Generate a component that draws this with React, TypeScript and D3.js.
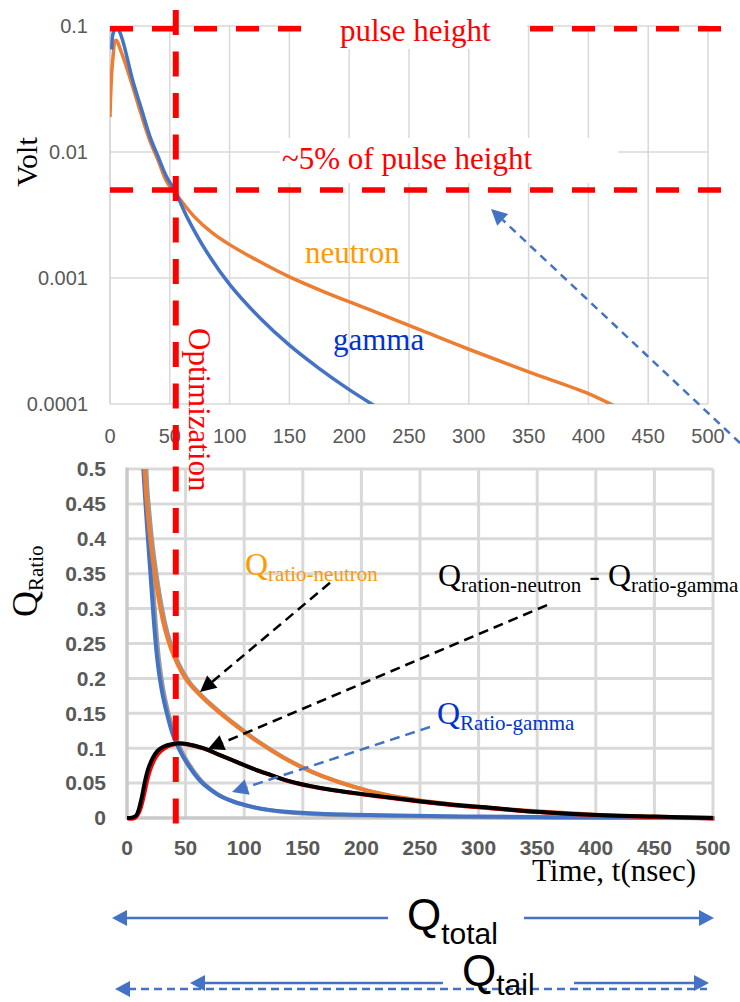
import React from 'react';
import * as d3 from 'd3';

// ---------- DATA ----------
const topXTicks = [0, 50, 100, 150, 200, 250, 300, 350, 400, 450, 500];
const topYTicks = [0.1, 0.01, 0.001, 0.0001];
const topYLabels = ['0.1', '0.01', '0.001', '0.0001'];

const gammaTime = [1.5, 3, 6, 10, 19, 26, 33.5, 40, 47.5, 54, 64, 80, 100, 125, 150, 175, 200, 225];
const gammaVolt = [0.065, 0.09, 0.097, 0.08, 0.037, 0.0224, 0.0132, 0.0093, 0.0063, 0.005, 0.0031, 0.00166, 0.00089, 0.000486, 0.000293, 0.000191, 0.00013, 0.000092];

const neutronTime = [0, 2, 5, 10, 19, 26, 33.5, 40, 47.5, 54, 70, 85, 100, 125, 150, 180, 217, 260, 300, 350, 400, 430];
const neutronVolt = [0.019, 0.05, 0.077, 0.06, 0.033, 0.02, 0.0122, 0.0087, 0.0058, 0.0048, 0.0031, 0.0023, 0.00184, 0.00135, 0.00102, 0.00077, 0.00056, 0.000385, 0.000272, 0.00018, 0.000121, 0.000088];

const pulseHeight = 0.095;
const fivePercentLevel = 0.005;
const optimizationTime = 55;

const botXTicks = [0, 50, 100, 150, 200, 250, 300, 350, 400, 450, 500];
const botYTicks = [0, 0.05, 0.1, 0.15, 0.2, 0.25, 0.3, 0.35, 0.4, 0.45, 0.5];
const botYLabels = ['0', '0.05', '0.1', '0.15', '0.2', '0.25', '0.3', '0.35', '0.4', '0.45', '0.5'];

const qNeutronTime = [14, 15, 16, 17.5, 19.5, 22, 25, 28, 31, 35, 40, 46, 53, 60, 68, 79, 94, 107, 122, 136, 150, 165, 193, 216, 250, 300, 350, 400, 450, 500];
const qNeutronVal = [0.54, 0.5, 0.47, 0.44, 0.405, 0.37, 0.335, 0.305, 0.28, 0.255, 0.232, 0.211, 0.193, 0.18, 0.167, 0.151, 0.131, 0.1145, 0.098, 0.084, 0.072, 0.061, 0.045, 0.035, 0.025, 0.016, 0.0095, 0.0048, 0.002, 0];

const qGammaTime = [13, 14, 17, 20, 23, 26, 30, 34, 39, 45, 51, 62, 70, 79, 90, 107, 120, 136, 165, 216, 300, 400, 500];
const qGammaVal = [0.55, 0.5, 0.42, 0.35, 0.28, 0.225, 0.18, 0.15, 0.12, 0.097, 0.079, 0.054, 0.042, 0.032, 0.024, 0.016, 0.012, 0.0088, 0.006, 0.004, 0.002, 0.001, 0.0005];

const qDiffTime = [0, 4, 8, 12, 15, 18, 22, 26, 31, 39, 45, 51, 65, 79.5, 94, 107, 122, 136, 165, 193, 216, 250, 278, 300, 350, 406, 450, 500];
const qDiffVal = [0, 0.0005, 0.004, 0.025, 0.05, 0.07, 0.086, 0.096, 0.102, 0.106, 0.107, 0.106, 0.1, 0.09, 0.08, 0.071, 0.062, 0.054, 0.043, 0.036, 0.031, 0.024, 0.019, 0.016, 0.009, 0.004, 0.002, 0];

const qDiffRedTime = [0, 6, 10, 14, 17, 20, 24, 28, 34, 40, 45, 51, 65, 79.5, 94, 107, 122, 136, 165, 193, 216, 250, 278, 300, 350, 406, 450, 500];
const qDiffRedVal = [0, 0.0005, 0.01, 0.035, 0.058, 0.074, 0.088, 0.096, 0.103, 0.106, 0.107, 0.106, 0.1, 0.09, 0.08, 0.071, 0.062, 0.054, 0.043, 0.036, 0.031, 0.024, 0.019, 0.016, 0.009, 0.004, 0.002, 0];

// annotation arrows in data units of the lower chart: [fromT, fromV, tipT, tipV]
const arrowNeutron = [173.2, 0.337, 62.3, 0.1805];
const arrowDiff = [358.4, 0.305, 69.1, 0.0989];
const arrowGamma = [258.5, 0.1304, 89.6, 0.0372];
// annotation arrow in data units of the upper chart
const arrowTop = [526.8, 0.000049, 318.6, 0.00353];

// ---------- STYLE ----------
const SERIF = '"Liberation Serif", "Times New Roman", serif';
const SANS = '"Liberation Sans", Arial, sans-serif';
const BLUE = '#4472C4';
const ORANGE = '#ED7D31';
const GRID = '#d9d9d9';
const TICK = '#595959';
const RED = '#ff0000';

function zip(a: number[], b: number[]): [number, number][] {
  return a.map((t, i) => [t, b[i]]);
}

function arrowHead(x1: number, y1: number, x2: number, y2: number, L = 16, W = 8) {
  const dx = x2 - x1, dy = y2 - y1;
  const len = Math.hypot(dx, dy);
  const ux = dx / len, uy = dy / len;
  const bx = x2 - ux * L, by = y2 - uy * L;
  const px = -uy, py = ux;
  return {
    pts: `${x2},${y2} ${bx + px * W},${by + py * W} ${bx - px * W},${by - py * W}`,
    bx, by,
  };
}

function Arrow({ x1, y1, x2, y2, color, dash, width = 2.5, L = 16, W = 8 }: any) {
  const h = arrowHead(x1, y1, x2, y2, L, W);
  return (
    <g>
      <line x1={x1} y1={y1} x2={h.bx} y2={h.by} stroke={color} strokeWidth={width} strokeDasharray={dash} />
      <polygon points={h.pts} fill={color} />
    </g>
  );
}

export default function App() {
  // upper chart scales
  const xT = d3.scaleLinear().domain([0, 500]).range([110, 708]);
  const yT = d3.scaleLog().domain([0.0001, 0.1]).range([404, 26]);
  // lower chart scales
  const xB = d3.scaleLinear().domain([0, 500]).range([127, 713]);
  const yB = d3.scaleLinear().domain([0, 0.5]).range([818, 469]);

  const curve = d3.curveCatmullRom.alpha(0.5);
  const lineT = d3.line<[number, number]>().x(d => xT(d[0])).y(d => yT(d[1])).curve(curve);
  const lineB = d3.line<[number, number]>().x(d => xB(d[0])).y(d => yB(d[1])).curve(curve);

  const gammaPath = lineT(zip(gammaTime, gammaVolt)) || '';
  const neutronPath = lineT(zip(neutronTime, neutronVolt)) || '';
  const qnPath = lineB(zip(qNeutronTime, qNeutronVal)) || '';
  const qgPath = lineB(zip(qGammaTime, qGammaVal)) || '';
  const qdPath = lineB(zip(qDiffTime, qDiffVal)) || '';
  const qrPath = lineB(zip(qDiffRedTime, qDiffRedVal)) || '';

  const optX = xT(optimizationTime);

  return (
    <svg width={740} height={1002} style={{ position: 'absolute', left: 0, top: 0, background: '#fff' }}>
      <defs>
        <clipPath id="clipTop">
          <rect x={110} y={20} width={598} height={384} />
        </clipPath>
        <clipPath id="clipBot">
          <rect x={127} y={469} width={590} height={352} />
        </clipPath>
      </defs>
      <rect x={0} y={0} width={740} height={1002} fill="#fff" />

      {/* ---------------- UPPER CHART ---------------- */}
      {topXTicks.slice(1).map(t => (
        <line key={'tvx' + t} x1={xT(t)} x2={xT(t)} y1={yT(0.1)} y2={yT(0.0001)} stroke={GRID} strokeWidth={1.5} />
      ))}
      {topYTicks.map(v => (
        <line key={'thy' + v} x1={xT(0)} x2={xT(500)} y1={yT(v)} y2={yT(v)} stroke={GRID} strokeWidth={1.5} />
      ))}
      <line x1={xT(0)} x2={xT(0)} y1={yT(0.1)} y2={yT(0.0001)} stroke="#cfcfcf" strokeWidth={1.5} />
      {topYTicks.map((v, i) => (
        <text key={'tyl' + v} x={88} y={yT(v)} dy="0.35em" textAnchor="end" fontFamily={SANS} fontSize={20} fill={TICK}>{topYLabels[i]}</text>
      ))}
      {topXTicks.map(t => (
        <text key={'txl' + t} x={xT(t)} y={443} textAnchor="middle" fontFamily={SANS} fontSize={20} fill={TICK}>{t}</text>
      ))}
      <text transform="translate(37,162) rotate(-90)" textAnchor="middle" fontFamily={SERIF} fontSize={30} fill="#000">Volt</text>

      <g clipPath="url(#clipTop)">
        <path d={neutronPath} fill="none" stroke={ORANGE} strokeWidth={3.5} />
        <path d={gammaPath} fill="none" stroke={BLUE} strokeWidth={3.5} />
      </g>

      {/* red dashed horizontals */}
      <line x1={xT(0)} x2={723} y1={yT(pulseHeight)} y2={yT(pulseHeight)} stroke={RED} strokeWidth={5.5} strokeDasharray="23 19" />
      <line x1={xT(0)} x2={723} y1={yT(fivePercentLevel)} y2={yT(fivePercentLevel)} stroke={RED} strokeWidth={5.5} strokeDasharray="23 19" />

      {/* text boxes */}
      <rect x={302} y={0} width={225} height={49} fill="#fff" />
      <text x={340} y={41} fontFamily={SERIF} fontSize={31} fill={RED}>pulse height</text>
      <rect x={280} y={138} width={338} height={45} fill="#fff" />
      <text x={282} y={169} fontFamily={SERIF} fontSize={31} fill={RED}>~5% of pulse height</text>

      <text x={305} y={263} fontFamily={SERIF} fontSize={31} fill="#FF9900">neutron</text>
      <text x={333} y={350} fontFamily={SERIF} fontSize={31} fill="#0033CC">gamma</text>

      {/* ---------------- LOWER CHART ---------------- */}
      {botXTicks.slice(1).map(t => (
        <line key={'bvx' + t} x1={xB(t)} x2={xB(t)} y1={yB(0.5)} y2={yB(0)} stroke={GRID} strokeWidth={3} />
      ))}
      {botYTicks.slice(1).map(v => (
        <line key={'bhy' + v} x1={xB(0)} x2={xB(500)} y1={yB(v)} y2={yB(v)} stroke={GRID} strokeWidth={3} />
      ))}
      <line x1={xB(0)} x2={xB(0)} y1={yB(0.5) - 1.5} y2={yB(0) + 1.5} stroke="#c9c9c9" strokeWidth={3.5} />
      <line x1={xB(0)} x2={xB(500) + 1.5} y1={yB(0)} y2={yB(0)} stroke="#c9c9c9" strokeWidth={3.5} />
      {botYTicks.map((v, i) => (
        <text key={'byl' + v} x={106} y={yB(v)} dy="0.35em" textAnchor="end" fontFamily={SANS} fontWeight="bold" fontSize={21} fill={TICK}>{botYLabels[i]}</text>
      ))}
      {botXTicks.map(t => (
        <text key={'bxl' + t} x={xB(t)} y={855} textAnchor="middle" fontFamily={SANS} fontWeight="bold" fontSize={21} fill={TICK}>{t}</text>
      ))}
      <text transform="translate(37,617) rotate(-90)" fontFamily={SERIF} fill="#000">
        <tspan fontSize={36}>Q</tspan>
        <tspan fontSize={21} dy={6}>Ratio</tspan>
      </text>
      <text x={532} y={881} fontFamily={SERIF} fontSize={31} fill="#000">Time, t(nsec)</text>

      <g clipPath="url(#clipBot)">
        <path d={qgPath} fill="none" stroke="#9a9a9a" strokeWidth={4} transform="translate(1.8,0.6)" />
        <path d={qgPath} fill="none" stroke={BLUE} strokeWidth={4} />
        <path d={qnPath} fill="none" stroke="#9a9a9a" strokeWidth={4} transform="translate(1.8,0.6)" />
        <path d={qnPath} fill="none" stroke={ORANGE} strokeWidth={4} />
        <path d={qrPath} fill="none" stroke={RED} strokeWidth={4} transform="translate(0.8,0.4)" />
        <path d={qdPath} fill="none" stroke="#000" strokeWidth={4} />
      </g>

      {/* annotations lower chart */}
      <text x={245} y={575} fontFamily={SERIF} fill="#FF9900">
        <tspan fontSize={32}>Q</tspan>
        <tspan fontSize={21} dy={6}>ratio-neutron</tspan>
      </text>
      <text x={438} y={586} fontFamily={SERIF} fill="#000">
        <tspan fontSize={32}>Q</tspan>
        <tspan fontSize={21} dy={6}>ration-neutron</tspan>
        <tspan fontSize={32} dy={-6}> - Q</tspan>
        <tspan fontSize={21} dy={6}>ratio-gamma</tspan>
      </text>
      <text x={437} y={724} fontFamily={SERIF} fill="#0033CC">
        <tspan fontSize={32}>Q</tspan>
        <tspan fontSize={21} dy={6}>Ratio-gamma</tspan>
      </text>

      <Arrow x1={xB(arrowNeutron[0])} y1={yB(arrowNeutron[1])} x2={xB(arrowNeutron[2])} y2={yB(arrowNeutron[3])} color="#000" dash="10 6" />
      <Arrow x1={xB(arrowDiff[0])} y1={yB(arrowDiff[1])} x2={xB(arrowDiff[2])} y2={yB(arrowDiff[3])} color="#000" dash="10 6" />
      <Arrow x1={xB(arrowGamma[0])} y1={yB(arrowGamma[1])} x2={xB(arrowGamma[2])} y2={yB(arrowGamma[3])} color={BLUE} dash="10 6" />

      {/* upper chart blue dashed arrow */}
      <Arrow x1={xT(arrowTop[0])} y1={yT(arrowTop[1])} x2={xT(arrowTop[2])} y2={yT(arrowTop[3])} color={BLUE} dash="8 6" />

      {/* red vertical optimization line */}
      <line x1={optX} x2={optX} y1={10} y2={833} stroke={RED} strokeWidth={6} strokeDasharray="25 16.5" />
      <text transform="translate(189,328) rotate(90)" fontFamily={SERIF} fontSize={31} fill={RED}>Optimization</text>

      {/* Q_total / Q_tail arrows */}
      <line x1={125} x2={388} y1={918} y2={918} stroke={BLUE} strokeWidth={2.5} />
      <polygon points={`112,918 127,910 127,926`} fill={BLUE} />
      <line x1={524} x2={700} y1={918} y2={918} stroke={BLUE} strokeWidth={2.5} />
      <polygon points={`714,918 699,910 699,926`} fill={BLUE} />
      <text x={407} y={930} fontFamily={SANS} fill="#000">
        <tspan fontSize={44}>Q</tspan>
        <tspan fontSize={30} dy={14}>total</tspan>
      </text>

      <line x1={203} x2={443} y1={983} y2={983} stroke={BLUE} strokeWidth={2.5} />
      <polygon points={`190,983 205,975 205,991`} fill={BLUE} />
      <line x1={574} x2={696} y1={983} y2={983} stroke={BLUE} strokeWidth={2.5} />
      <polygon points={`709,983 694,975 694,991`} fill={BLUE} />
      <line x1={128} x2={707} y1={989} y2={989} stroke={BLUE} strokeWidth={2.5} strokeDasharray="8 5" />
      <polygon points={`115,989 130,981 130,997`} fill={BLUE} />
      <text x={462} y={986} fontFamily={SANS} fill="#000">
        <tspan fontSize={44}>Q</tspan>
        <tspan fontSize={30} dy={9}>tail</tspan>
      </text>
    </svg>
  );
}
